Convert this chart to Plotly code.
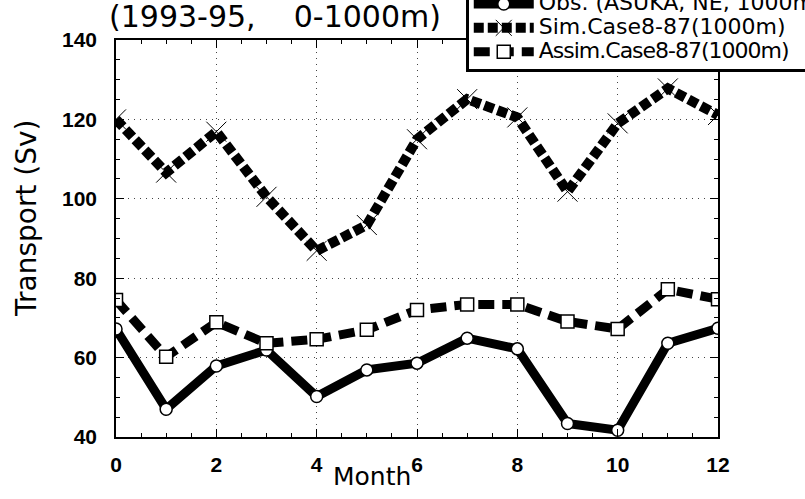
import plotly.graph_objects as go

months = [0, 1, 2, 3, 4, 5, 6, 7, 8, 9, 10, 11, 12]
obs = [67.2, 47.0, 57.9, 61.9, 50.2, 56.9, 58.6, 64.9, 62.2, 43.4, 41.7, 63.6, 67.4]
sim = [120.0, 106.6, 116.9, 100.5, 86.9, 93.4, 115.0, 125.1, 120.5, 101.8, 119.0, 127.8, 121.1]
assim = [74.5, 60.2, 68.9, 63.6, 64.6, 67.0, 72.0, 73.4, 73.4, 69.1, 67.2, 77.2, 74.7]

names = ["Obs. (ASUKA, NE, 1000m))", "Sim.Case8-87(1000m)", "Assim.Case8-87(1000m)"]
title_text = "(1993-95,\u00a0\u00a0\u00a0\u00a00-1000m)"
x_title = "Month"
y_title = "Transport (Sv)"

TXT = "DejaVu Sans"
NUM = "Liberation Sans"


def lname(s, extra=""):
    return '<span style="font-size:22px;' + extra + '">' + s + '</span>'


fig = go.Figure()
fig.add_trace(go.Scatter(
    x=months, y=obs, name=lname(names[0]), mode="lines+markers",
    line=dict(color="black", width=9),
    marker=dict(symbol="circle", size=12, color="white", line=dict(color="black", width=1.5)),
))
fig.add_trace(go.Scatter(
    x=months, y=sim, name=lname(names[1]), mode="lines+markers",
    line=dict(color="black", width=10, dash="10px,4px"),
    marker=dict(symbol="x-thin-open", size=20, color="black", line=dict(color="black", width=1)),
))
fig.add_trace(go.Scatter(
    x=months, y=assim, name=lname(names[2], "letter-spacing:-1px"), mode="lines+markers",
    line=dict(color="black", width=9, dash="16px,8px"),
    marker=dict(symbol="square", size=13, color="white", line=dict(color="black", width=1.5)),
))

axis_common = dict(
    showline=True, linecolor="black", linewidth=1.5, mirror="ticks",
    ticks="inside", ticklen=8, tickwidth=1.2, tickcolor="black",
    showgrid=True, gridcolor="#444", griddash="1px,5px", gridwidth=1,
    zeroline=False,
    tickfont=dict(family=NUM, size=21, color="black", weight="bold"),
)

fig.update_xaxes(
    range=[0, 12], dtick=2, tick0=0,
    minor=dict(dtick=0.5, ticks="inside", ticklen=4, tickcolor="black", showgrid=False),
    ticklabelstandoff=8,
    **axis_common,
)
fig.update_yaxes(
    range=[40, 140], dtick=20, tick0=40,
    minor=dict(dtick=5, ticks="inside", ticklen=4, tickcolor="black", showgrid=False),
    ticklabelstandoff=13,
    **axis_common,
)

fig.update_layout(
    width=805, height=499,
    margin=dict(l=116, r=87, t=40, b=62, autoexpand=False),
    paper_bgcolor="white", plot_bgcolor="white",
    showlegend=True,
    hovermode=False,
    legend=dict(
        x=0.581, y=0.919, xanchor="left", yanchor="bottom",
        font=dict(family=TXT, size=16, color="black"),
        bgcolor="white", bordercolor="black", borderwidth=3,
        itemwidth=60, tracegroupgap=0,
    ),
    annotations=[
        dict(text=title_text, xref="paper", yref="paper",
             x=(107 - 116) / 602, y=(437 - 16) / 397, xanchor="left", yanchor="middle",
             showarrow=False, font=dict(family=TXT, size=30, color="black")),
        dict(text=x_title, xref="paper", yref="paper",
             x=(372 - 116) / 602, y=(437 - 476) / 397, xanchor="center", yanchor="middle",
             showarrow=False, font=dict(family=TXT, size=25, color="black")),
        dict(text=y_title, xref="paper", yref="paper", textangle=-90,
             x=(26 - 116) / 602, y=(437 - 219) / 397, xanchor="center", yanchor="middle",
             showarrow=False, font=dict(family=TXT, size=28, color="black")),
    ],
)

fig.write_html("out.html", config={"displayModeBar": False},
               post_script="document.body.style.margin='0';")
